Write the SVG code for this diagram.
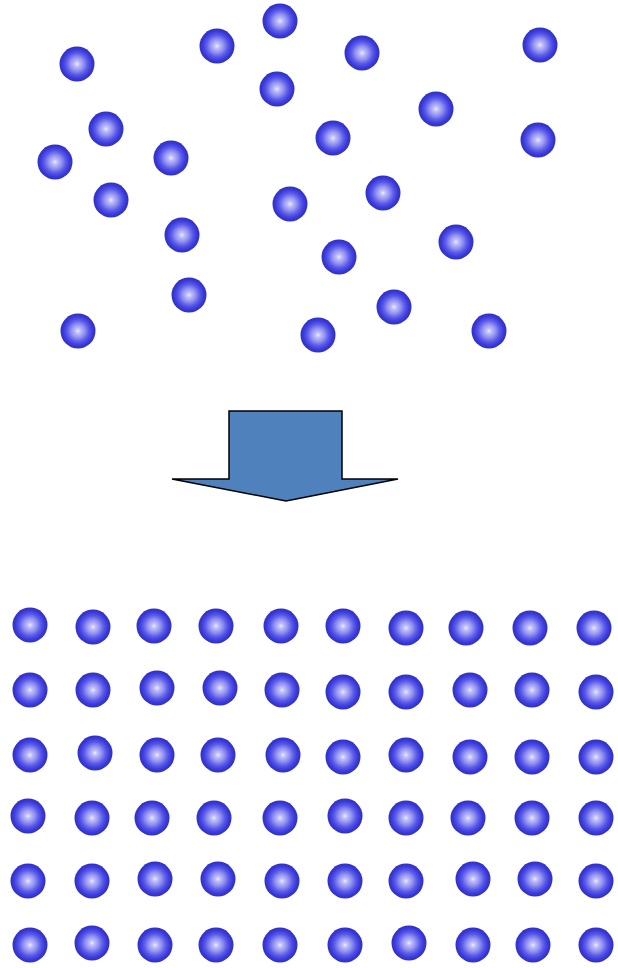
<svg xmlns="http://www.w3.org/2000/svg" xmlns:xlink="http://www.w3.org/1999/xlink" width="618" height="968" viewBox="0 0 618 968">
<defs>
<radialGradient id="g" cx="0.5" cy="0.5" r="0.5">
<stop offset="0" stop-color="#f0f0ff"/>
<stop offset="0.12" stop-color="#c4c4fa"/>
<stop offset="0.4" stop-color="#8e8ef0"/>
<stop offset="0.62" stop-color="#5a5ae8"/>
<stop offset="0.82" stop-color="#3c3cde"/>
<stop offset="1" stop-color="#2e2ebe"/>
</radialGradient>
<symbol id="s" overflow="visible"><circle cx="0" cy="0" r="17.5" fill="url(#g)"/></symbol>
</defs>
<rect width="618" height="968" fill="#ffffff"/>
<g id="scattered">
<use href="#s" x="77" y="64"/><use href="#s" x="217" y="46"/><use href="#s" x="280" y="21"/><use href="#s" x="362" y="53"/><use href="#s" x="540" y="45"/>
<use href="#s" x="277" y="89"/><use href="#s" x="436" y="109"/><use href="#s" x="106" y="129"/><use href="#s" x="333" y="138"/><use href="#s" x="538" y="140"/>
<use href="#s" x="55" y="162"/><use href="#s" x="171" y="158"/><use href="#s" x="111" y="200"/><use href="#s" x="290" y="204"/><use href="#s" x="383" y="193"/>
<use href="#s" x="182" y="235"/><use href="#s" x="456" y="242"/><use href="#s" x="339" y="257"/><use href="#s" x="189" y="295"/><use href="#s" x="394" y="307"/>
<use href="#s" x="78" y="331"/><use href="#s" x="318" y="335"/><use href="#s" x="489" y="331"/>
</g>
<g id="arrow">
<polygon points="229,411 342,411 342,479 398,479 286,501 172,479 229,479" fill="#4f81bd" stroke="#000000" stroke-width="1.5" stroke-linejoin="miter"/>
</g>
<g id="grid">
<use href="#s" x="30" y="625"/><use href="#s" x="93" y="627"/><use href="#s" x="154" y="626"/><use href="#s" x="216" y="626"/><use href="#s" x="281" y="626"/><use href="#s" x="343" y="626"/><use href="#s" x="406" y="628"/><use href="#s" x="466" y="628"/><use href="#s" x="530" y="628"/><use href="#s" x="594" y="628"/>
<use href="#s" x="30" y="690"/><use href="#s" x="93" y="690"/><use href="#s" x="157" y="688"/><use href="#s" x="220" y="688"/><use href="#s" x="282" y="690"/><use href="#s" x="343" y="692"/><use href="#s" x="406" y="692"/><use href="#s" x="470" y="690"/><use href="#s" x="532" y="690"/><use href="#s" x="596" y="692"/>
<use href="#s" x="30" y="755"/><use href="#s" x="95" y="753"/><use href="#s" x="157" y="755"/><use href="#s" x="218" y="755"/><use href="#s" x="283" y="755"/><use href="#s" x="343" y="757"/><use href="#s" x="406" y="755"/><use href="#s" x="470" y="757"/><use href="#s" x="532" y="757"/><use href="#s" x="596" y="757"/>
<use href="#s" x="28" y="816"/><use href="#s" x="92" y="818"/><use href="#s" x="152" y="818"/><use href="#s" x="214" y="818"/><use href="#s" x="280" y="818"/><use href="#s" x="345" y="816"/><use href="#s" x="406" y="818"/><use href="#s" x="468" y="818"/><use href="#s" x="532" y="818"/><use href="#s" x="596" y="818"/>
<use href="#s" x="28" y="881"/><use href="#s" x="92" y="881"/><use href="#s" x="155" y="879"/><use href="#s" x="218" y="879"/><use href="#s" x="282" y="881"/><use href="#s" x="345" y="881"/><use href="#s" x="406" y="881"/><use href="#s" x="473" y="879"/><use href="#s" x="535" y="879"/><use href="#s" x="596" y="881"/>
<use href="#s" x="30" y="945"/><use href="#s" x="92" y="943"/><use href="#s" x="155" y="945"/><use href="#s" x="216" y="945"/><use href="#s" x="280" y="945"/><use href="#s" x="345" y="945"/><use href="#s" x="409" y="943"/><use href="#s" x="473" y="945"/><use href="#s" x="533" y="945"/><use href="#s" x="596" y="945"/>
</g>
</svg>
